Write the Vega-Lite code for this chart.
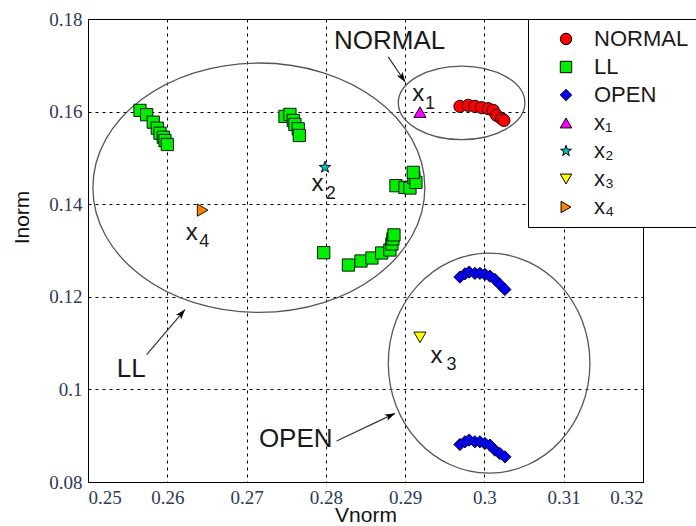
{
  "$schema": "https://vega.github.io/schema/vega-lite/v6.json",
  "autosize": "none",
  "width": 555,
  "height": 463,
  "padding": {"left": 88, "top": 19, "right": 53, "bottom": 44},
  "background": "white",
  "config": {
    "view": {"stroke": "black", "strokeWidth": 1},
    "axis": {
      "domain": false,
      "ticks": false,
      "grid": true,
      "gridColor": "black",
      "gridDash": [3, 4],
      "gridWidth": 1,
      "gridOpacity": 1,
      "labelFont": "Liberation Serif",
      "labelFontSize": 19,
      "labelColor": "#2a3a5a",
      "labelPadding": 6,
      "titleFont": "Liberation Sans",
      "titleFontSize": 21,
      "titleFontWeight": "normal",
      "titleColor": "#111"
    }
  },
  "datasets": {
    "pts": [
      {"Vnorm": 0.29691, "Inorm": 0.16113, "class": "NORMAL"},
      {"Vnorm": 0.29796, "Inorm": 0.16135, "class": "NORMAL"},
      {"Vnorm": 0.2988, "Inorm": 0.16113, "class": "NORMAL"},
      {"Vnorm": 0.29965, "Inorm": 0.16085, "class": "NORMAL"},
      {"Vnorm": 0.30048, "Inorm": 0.16063, "class": "NORMAL"},
      {"Vnorm": 0.30111, "Inorm": 0.16026, "class": "NORMAL"},
      {"Vnorm": 0.30154, "Inorm": 0.15918, "class": "NORMAL"},
      {"Vnorm": 0.30217, "Inorm": 0.15846, "class": "NORMAL"},
      {"Vnorm": 0.30246, "Inorm": 0.15809, "class": "NORMAL"},

      {"Vnorm": 0.25656, "Inorm": 0.16026, "class": "LL"},
      {"Vnorm": 0.2574, "Inorm": 0.15933, "class": "LL"},
      {"Vnorm": 0.25823, "Inorm": 0.15772, "class": "LL"},
      {"Vnorm": 0.25874, "Inorm": 0.15642, "class": "LL"},
      {"Vnorm": 0.25908, "Inorm": 0.15534, "class": "LL"},
      {"Vnorm": 0.2595, "Inorm": 0.15447, "class": "LL"},
      {"Vnorm": 0.25971, "Inorm": 0.15375, "class": "LL"},
      {"Vnorm": 0.26, "Inorm": 0.15289, "class": "LL"},
      {"Vnorm": 0.27484, "Inorm": 0.15896, "class": "LL"},
      {"Vnorm": 0.27547, "Inorm": 0.15939, "class": "LL"},
      {"Vnorm": 0.27589, "Inorm": 0.15809, "class": "LL"},
      {"Vnorm": 0.2761, "Inorm": 0.15722, "class": "LL"},
      {"Vnorm": 0.27652, "Inorm": 0.15629, "class": "LL"},
      {"Vnorm": 0.27665, "Inorm": 0.15484, "class": "LL"},
      {"Vnorm": 0.27973, "Inorm": 0.12953, "class": "LL"},
      {"Vnorm": 0.28285, "Inorm": 0.12686, "class": "LL"},
      {"Vnorm": 0.28443, "Inorm": 0.12773, "class": "LL"},
      {"Vnorm": 0.28581, "Inorm": 0.12838, "class": "LL"},
      {"Vnorm": 0.28704, "Inorm": 0.12946, "class": "LL"},
      {"Vnorm": 0.28808, "Inorm": 0.13011, "class": "LL"},
      {"Vnorm": 0.28833, "Inorm": 0.13141, "class": "LL"},
      {"Vnorm": 0.28846, "Inorm": 0.1325, "class": "LL"},
      {"Vnorm": 0.28859, "Inorm": 0.13337, "class": "LL"},
      {"Vnorm": 0.28884, "Inorm": 0.144, "class": "LL"},
      {"Vnorm": 0.28997, "Inorm": 0.14363, "class": "LL"},
      {"Vnorm": 0.29061, "Inorm": 0.1435, "class": "LL"},
      {"Vnorm": 0.2911, "Inorm": 0.14573, "class": "LL"},
      {"Vnorm": 0.29136, "Inorm": 0.14471, "class": "LL"},
      {"Vnorm": 0.29102, "Inorm": 0.14688, "class": "LL"},

      {"Vnorm": 0.29691, "Inorm": 0.12426, "class": "OPEN"},
      {"Vnorm": 0.29754, "Inorm": 0.12497, "class": "OPEN"},
      {"Vnorm": 0.29808, "Inorm": 0.12534, "class": "OPEN"},
      {"Vnorm": 0.2988, "Inorm": 0.12506, "class": "OPEN"},
      {"Vnorm": 0.29943, "Inorm": 0.12506, "class": "OPEN"},
      {"Vnorm": 0.30006, "Inorm": 0.12484, "class": "OPEN"},
      {"Vnorm": 0.30069, "Inorm": 0.12447, "class": "OPEN"},
      {"Vnorm": 0.30132, "Inorm": 0.12375, "class": "OPEN"},
      {"Vnorm": 0.30195, "Inorm": 0.12267, "class": "OPEN"},
      {"Vnorm": 0.30258, "Inorm": 0.12159, "class": "OPEN"},
      {"Vnorm": 0.29691, "Inorm": 0.0881, "class": "OPEN"},
      {"Vnorm": 0.29754, "Inorm": 0.08869, "class": "OPEN"},
      {"Vnorm": 0.29808, "Inorm": 0.08906, "class": "OPEN"},
      {"Vnorm": 0.2988, "Inorm": 0.08869, "class": "OPEN"},
      {"Vnorm": 0.29943, "Inorm": 0.08869, "class": "OPEN"},
      {"Vnorm": 0.30006, "Inorm": 0.08832, "class": "OPEN"},
      {"Vnorm": 0.30069, "Inorm": 0.08797, "class": "OPEN"},
      {"Vnorm": 0.30132, "Inorm": 0.08689, "class": "OPEN"},
      {"Vnorm": 0.30195, "Inorm": 0.08615, "class": "OPEN"},
      {"Vnorm": 0.30258, "Inorm": 0.08543, "class": "OPEN"},

      {"Vnorm": 0.29187, "Inorm": 0.15989, "class": "x₁"},
      {"Vnorm": 0.27989, "Inorm": 0.14797, "class": "x₂"},
      {"Vnorm": 0.29187, "Inorm": 0.11124, "class": "x₃"},
      {"Vnorm": 0.26446, "Inorm": 0.13872, "class": "x₄"}
    ],
    "ann": [
      {"Vnorm": 0.28804, "Inorm": 0.17527, "text": "NORMAL"},
      {"Vnorm": 0.25546, "Inorm": 0.10441, "text": "LL"},
      {"Vnorm": 0.2762, "Inorm": 0.08923, "text": "OPEN"}
    ],
    "xlab": [
      {"Vnorm": 0.29165, "Inorm": 0.1638, "text": "x"},
      {"Vnorm": 0.27894, "Inorm": 0.14436, "text": "x"},
      {"Vnorm": 0.29397, "Inorm": 0.10729, "text": "x"},
      {"Vnorm": 0.26308, "Inorm": 0.13376, "text": "x"}
    ],
    "xsub": [
      {"Vnorm": 0.29313, "Inorm": 0.16171, "text": "1"},
      {"Vnorm": 0.28062, "Inorm": 0.1422, "text": "2"},
      {"Vnorm": 0.29586, "Inorm": 0.10532, "text": "3"},
      {"Vnorm": 0.26465, "Inorm": 0.13189, "text": "4"}
    ],
    "arrows": [
      {"Vnorm": 0.28787, "Inorm": 0.17182, "Vend": 0.29, "Iend": 0.1664, "name": "NORMAL"},
      {"Vnorm": 0.2574, "Inorm": 0.10749, "Vend": 0.26223, "Iend": 0.11725, "name": "LL"},
      {"Vnorm": 0.28136, "Inorm": 0.08884, "Vend": 0.28871, "Iend": 0.09482, "name": "OPEN"}
    ]
  },
  "encoding": {
    "x": {"field": "Vnorm", "type": "quantitative",
      "scale": {"domain": [0.25, 0.32], "nice": false, "zero": false},
      "axis": {"title": "Vnorm", "values": [0.25, 0.26, 0.27, 0.28, 0.29, 0.3, 0.31, 0.32],
        "labelExpr": "format(datum.value, '.2~f')", "titleY": 33, "titleBaseline": "middle"}},
    "y": {"field": "Inorm", "type": "quantitative",
      "scale": {"domain": [0.08, 0.18], "nice": false, "zero": false},
      "axis": {"title": "Inorm", "values": [0.08, 0.1, 0.12, 0.14, 0.16, 0.18],
        "labelExpr": "format(datum.value, '.2~f')",
        "titleX": -66, "titleY": 198, "titleAngle": 270, "titleAlign": "center", "titleBaseline": "middle"}}
  },
  "layer": [
    {
      "data": {"values": [{"Vnorm": 0.27155, "Inorm": 0.14356, "name": "LL"}]},
      "mark": {"type": "point", "filled": false, "size": 4, "stroke": "#555", "strokeWidth": 1.3, "opacity": 1,
        "shape": "M166,0C166,68.9 91.7,124.7 0,124.7C-91.7,124.7 -166,68.9 -166,0C-166,-68.9 -91.7,-124.7 0,-124.7C91.7,-124.7 166,-68.9 166,0Z"}
    },
    {
      "data": {"values": [{"Vnorm": 0.29712, "Inorm": 0.16189, "name": "NORMAL"}]},
      "mark": {"type": "point", "filled": false, "size": 4, "stroke": "#555", "strokeWidth": 1.3, "opacity": 1,
        "shape": "M63.3,0C63.3,20.3 35,36.8 0,36.8C-35,36.8 -63.3,20.3 -63.3,0C-63.3,-20.3 -35,-36.8 0,-36.8C35,-36.8 63.3,-20.3 63.3,0Z"}
    },
    {
      "data": {"values": [{"Vnorm": 0.30059, "Inorm": 0.10567, "name": "OPEN"}]},
      "mark": {"type": "point", "filled": false, "size": 4, "stroke": "#555", "strokeWidth": 1.3, "opacity": 1,
        "shape": "M100.8,0C100.8,60.8 55.7,110 0,110C-55.7,110 -100.8,60.8 -100.8,0C-100.8,-60.8 -55.7,-110 0,-110C55.7,-110 100.8,-60.8 100.8,0Z"}
    },
    {
      "data": {"name": "arrows"},
      "mark": {"type": "rule", "color": "#333", "strokeWidth": 1.2},
      "encoding": {"x2": {"field": "Vend"}, "y2": {"field": "Iend"}}
    },
    {
      "data": {"name": "arrows"},
      "transform": [{"filter": "datum.name == 'NORMAL'"}],
      "mark": {"type": "point", "filled": true, "size": 4, "color": "black", "opacity": 1, "angle": 146.3,
        "shape": "M0,0L-3.5,10L0,7.5L3.5,10Z"},
      "encoding": {"x": {"field": "Vend", "type": "quantitative"}, "y": {"field": "Iend", "type": "quantitative"}}
    },
    {
      "data": {"name": "arrows"},
      "transform": [{"filter": "datum.name == 'LL'"}],
      "mark": {"type": "point", "filled": true, "size": 4, "color": "black", "opacity": 1, "angle": 40.4,
        "shape": "M0,0L-3.5,10L0,7.5L3.5,10Z"},
      "encoding": {"x": {"field": "Vend", "type": "quantitative"}, "y": {"field": "Iend", "type": "quantitative"}}
    },
    {
      "data": {"name": "arrows"},
      "transform": [{"filter": "datum.name == 'OPEN'"}],
      "mark": {"type": "point", "filled": true, "size": 4, "color": "black", "opacity": 1, "angle": 64.7,
        "shape": "M0,0L-3.5,10L0,7.5L3.5,10Z"},
      "encoding": {"x": {"field": "Vend", "type": "quantitative"}, "y": {"field": "Iend", "type": "quantitative"}}
    },
    {
      "data": {"name": "ann"},
      "mark": {"type": "text", "font": "Liberation Sans", "fontSize": 26, "color": "#1a1a1a", "align": "center", "baseline": "middle"},
      "encoding": {"text": {"field": "text"}}
    },
    {
      "data": {"name": "xlab"},
      "mark": {"type": "text", "font": "Liberation Sans", "fontSize": 24, "color": "#1a1a1a", "align": "center", "baseline": "middle"},
      "encoding": {"text": {"field": "text"}}
    },
    {
      "data": {"name": "xsub"},
      "mark": {"type": "text", "font": "Liberation Sans", "fontSize": 18, "color": "#1a1a1a", "align": "center", "baseline": "middle"},
      "encoding": {"text": {"field": "text"}}
    },
    {
      "data": {"name": "pts"},
      "mark": {"type": "point", "filled": true, "size": 150, "stroke": "black", "strokeWidth": 0.9, "opacity": 1},
      "encoding": {
        "color": {"field": "class", "type": "nominal",
          "scale": {"domain": ["NORMAL", "LL", "OPEN", "x₁", "x₂", "x₃", "x₄"],
            "range": ["#ff0000", "#00ee00", "#0000ff", "#ff00ff", "#00bfbf", "#ffff00", "#ff8000"]},
          "legend": {
            "title": null, "orient": "none", "legendX": 440, "legendY": 0,
            "strokeColor": "black", "fillColor": "white", "padding": 9,
            "labelFont": "Liberation Sans", "labelFontSize": 22, "labelColor": "#1a1a1a",
            "symbolSize": 130, "symbolStrokeColor": "black", "symbolStrokeWidth": 1,
            "rowPadding": 6, "symbolOffset": 18, "labelOffset": 17
          }},
        "shape": {"field": "class", "type": "nominal",
          "scale": {"domain": ["NORMAL", "LL", "OPEN", "x₁", "x₂", "x₃", "x₄"],
            "range": ["circle", "square", "diamond", "triangle-up",
              "M0,-1L0.235,-0.324L0.951,-0.309L0.38,0.124L0.588,0.809L0,0.4L-0.588,0.809L-0.38,0.124L-0.951,-0.309L-0.235,-0.324Z",
              "triangle-down", "triangle-right"]},
          "legend": {
            "title": null, "orient": "none", "legendX": 440, "legendY": 0,
            "strokeColor": "black", "fillColor": "white", "padding": 9,
            "labelFont": "Liberation Sans", "labelFontSize": 22, "labelColor": "#1a1a1a",
            "symbolSize": 130, "symbolStrokeColor": "black", "symbolStrokeWidth": 1,
            "rowPadding": 6, "symbolOffset": 18, "labelOffset": 17
          }}
      }
    }
  ]
}
